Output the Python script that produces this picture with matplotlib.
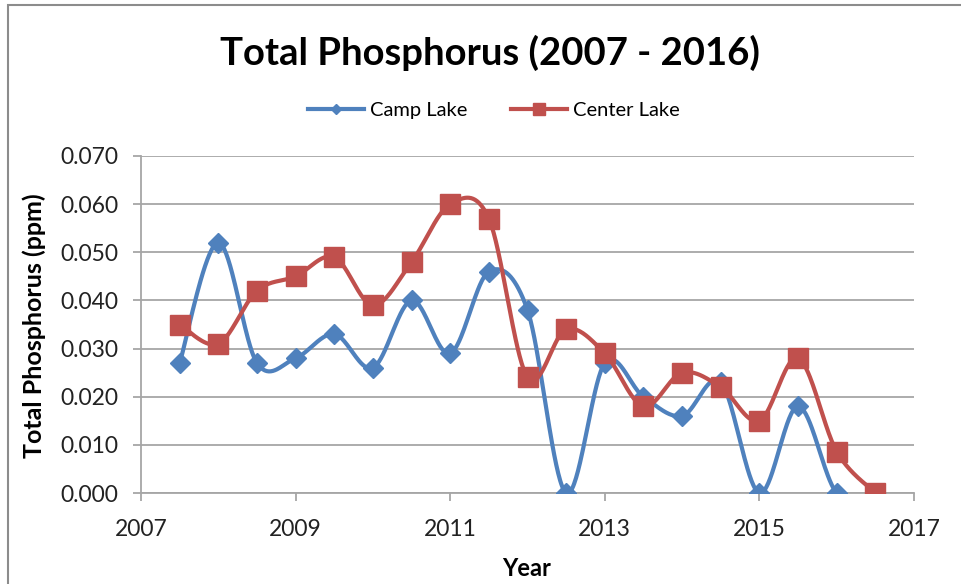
import numpy as np
import matplotlib
matplotlib.use("Agg")
from matplotlib import pyplot as plt
from matplotlib.lines import Line2D
from matplotlib.patches import Rectangle

# sample dates (half-year steps) and values
years = [2007.5, 2008.0, 2008.5, 2009.0, 2009.5, 2010.0, 2010.5, 2011.0, 2011.5, 2012.0,
         2012.5, 2013.0, 2013.5, 2014.0, 2014.5, 2015.0, 2015.5, 2016.0, 2016.5]
camp_lake = [0.027, 0.052, 0.027, 0.028, 0.033, 0.026, 0.040, 0.029, 0.046, 0.038,
             0.000, 0.027, 0.020, 0.016, 0.023, 0.000, 0.018, 0.000, 0.000]
center_lake = [0.035, 0.031, 0.042, 0.045, 0.049, 0.039, 0.048, 0.060, 0.057, 0.024,
               0.034, 0.029, 0.018, 0.025, 0.022, 0.015, 0.028, 0.0086, 0.000]

x_ticks = [2007, 2009, 2011, 2013, 2015, 2017]
y_ticks = [0.0, 0.01, 0.02, 0.03, 0.04, 0.05, 0.06, 0.07]

BLUE = '#4F81BD'
RED = '#C0504D'
FONT = ['Lato', 'DejaVu Sans']


def smooth(xs, ys, n=40):
    # excel style smoothed line: bezier segments, catmull-rom control points
    p = np.column_stack([xs, ys]).astype(float)
    out = []
    for i in range(len(p) - 1):
        p0 = p[i - 1] if i > 0 else p[i]
        p1 = p[i]
        p2 = p[i + 1]
        p3 = p[i + 2] if i + 2 < len(p) else p[i + 1]
        c1 = p1 + (p2 - p0) / 6.0
        c2 = p2 - (p3 - p1) / 6.0
        t = np.linspace(0, 1, n)[:, None]
        seg = ((1 - t) ** 3) * p1 + 3 * ((1 - t) ** 2) * t * c1 + 3 * (1 - t) * t ** 2 * c2 + t ** 3 * p2
        out.append(seg if i == 0 else seg[1:])
    seg = np.vstack(out)
    return seg[:, 0], seg[:, 1]


plt.rcParams['font.family'] = FONT

fig = plt.figure(figsize=(9.61, 5.84), dpi=100)

# chart area border (runs off the right and bottom of the picture)
fig.patches.append(Rectangle((8 / 961, -0.1), 1.2, 1 - 5 / 584 + 0.1, transform=fig.transFigure,
                             fill=False, edgecolor='#8c8c8c', linewidth=1.5))

ax = fig.add_axes([141 / 961, 1 - 493 / 584, (914 - 141) / 961, (493 - 156) / 584])

sx, sy = smooth(years, camp_lake)
ax.plot(sx, sy, color=BLUE, lw=3, zorder=3, solid_capstyle='round')
ax.plot(years, camp_lake, ls='none', marker='D', ms=10.5, color=BLUE, zorder=4)

sx, sy = smooth(years, center_lake)
ax.plot(sx, sy, color=RED, lw=3, zorder=5, solid_capstyle='round')
ax.plot(years, center_lake, ls='none', marker='s', ms=14.5, color=RED, zorder=6)

ax.set_xlim(2007, 2017)
ax.set_ylim(0, 0.07)
ax.set_xticks(x_ticks)
ax.set_yticks(y_ticks)
ax.set_yticklabels(['{:.3f}'.format(v) for v in y_ticks])
ax.grid(axis='y', color='#a6a6a6', lw=1.3)
ax.set_axisbelow(True)
for s in ['top', 'right']:
    ax.spines[s].set_visible(False)
for s in ['left', 'bottom']:
    ax.spines[s].set_color('#a6a6a6')
    ax.spines[s].set_linewidth(1.3)
ax.tick_params(axis='both', colors='#a6a6a6', labelcolor='#222222', labelsize=16.5,
               length=6, width=1.3)
ax.tick_params(axis='x', pad=12.5)
ax.tick_params(axis='y', pad=10.5)

ax.set_xlabel('Year', fontsize=17, fontweight='bold')
ax.set_ylabel('Total Phosphorus (ppm)', fontsize=18, fontweight='bold')
ax.xaxis.set_label_coords(0.4994, -0.19)
ax.yaxis.set_label_coords(-0.1230, 0.495)

fig.text(0.51, 1 - 53 / 584, 'Total Phosphorus (2007 - 2016)', ha='center', va='center',
         fontsize=27.5, fontweight='bold')

handles = [Line2D([], [], color=BLUE, lw=3, marker='D', ms=5),
           Line2D([], [], color=RED, lw=3, marker='s', ms=8)]
fig.legend(handles, ['Camp Lake', 'Center Lake'], loc='center', bbox_to_anchor=(0.514, 1 - 110 / 584),
           ncol=2, frameon=False, fontsize=14.5, handlelength=2.75, handletextpad=0.3,
           columnspacing=2.2)

plt.savefig('out.png', dpi=100)
